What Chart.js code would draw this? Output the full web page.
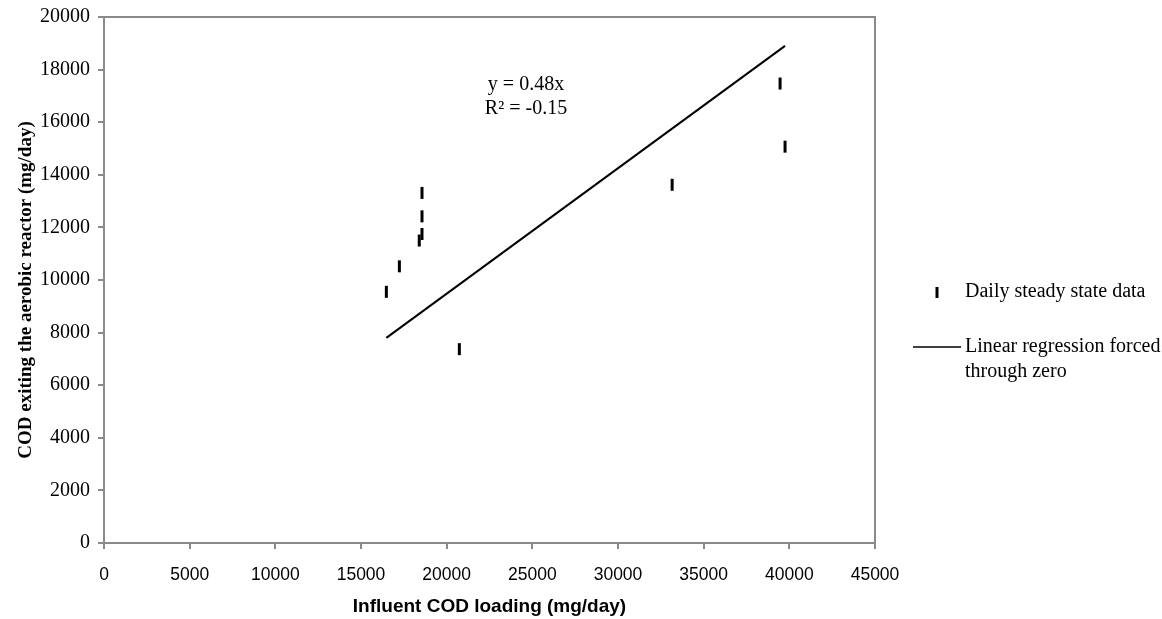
<!DOCTYPE html>
<html>
<head>
<meta charset="utf-8">
<script src="https://cdn.jsdelivr.net/npm/chart.js@4.4.1/dist/chart.umd.min.js"></script>
<style>
  html, body { margin: 0; padding: 0; background: #fff; }
  #wrap { width: 1162px; height: 619px; position: relative; }
</style>
</head>
<body>
<div id="wrap"><canvas id="chart" width="1162" height="619"></canvas></div>
<script>
// Influent vs effluent COD, daily steady state points + regression through zero
const INFLUENT = [16480, 17240, 18400, 18560, 18560, 18560, 20740, 33160, 39460, 39750];
const EFFLUENT = [9550, 10520, 11500, 11750, 12420, 13310, 7370, 13620, 17470, 15070];
const FIT_X = [16480, 39750];
const FIT_Y = [7800, 18900];
const EQ_LINES = ['y = 0.48x', 'R\u00B2 = -0.15'];
const EQ_POS = [24630, 17420];   // data coords of the equation label
const SERIES_LABELS = ['Daily steady state data', 'Linear regression forced through zero'];
const X_TITLE = 'Influent COD loading (mg/day)';
const Y_TITLE = 'COD exiting the aerobic reactor (mg/day)';

const AXIS_GREY = '#8a8a8a';
const SERIF = '"Liberation Serif", "Times New Roman", serif';
const SANS = '"Liberation Sans", Arial, sans-serif';

// frame, y title, equation text and hand-drawn legend
const extras = {
  id: 'extras',
  afterDraw(chart) {
    const { ctx, chartArea: a, scales } = chart;
    ctx.save();
    ctx.strokeStyle = AXIS_GREY;
    ctx.lineWidth = 2;
    ctx.beginPath();
    ctx.moveTo(a.left, a.top);
    ctx.lineTo(a.right, a.top);
    ctx.lineTo(a.right, a.bottom);
    ctx.stroke();

    ctx.fillStyle = '#000';
    ctx.textBaseline = 'middle';

    // y title
    ctx.save();
    ctx.translate(26, 290);
    ctx.rotate(-Math.PI / 2);
    ctx.textAlign = 'center';
    ctx.font = 'bold 19px ' + SERIF;
    ctx.fillText(Y_TITLE, 0, 0);
    ctx.restore();

    // equation
    ctx.font = '20px ' + SERIF;
    ctx.textAlign = 'center';
    const ex = scales.x.getPixelForValue(EQ_POS[0]);
    const ey = scales.y.getPixelForValue(EQ_POS[1]);
    EQ_LINES.forEach((t, i) => ctx.fillText(t, ex, ey + i * 24));

    // legend
    const lx = a.right;
    ctx.textAlign = 'left';
    ctx.strokeStyle = '#000';
    ctx.lineWidth = 3;
    ctx.beginPath();
    ctx.moveTo(lx + 62, 287);
    ctx.lineTo(lx + 62, 298);
    ctx.stroke();
    ctx.fillText(SERIES_LABELS[0], lx + 90, 292);

    ctx.lineWidth = 1.5;
    ctx.beginPath();
    ctx.moveTo(lx + 38, 347);
    ctx.lineTo(lx + 86, 347);
    ctx.stroke();
    ctx.fillText('Linear regression forced', lx + 90, 347);
    ctx.fillText('through zero', lx + 90, 372);
    ctx.restore();
  }
};

new Chart(document.getElementById('chart'), {
  type: 'scatter',
  data: {
    datasets: [
      {
        label: SERIES_LABELS[0],
        data: INFLUENT.map((x, i) => ({ x: x, y: EFFLUENT[i] })),
        pointStyle: 'line',
        rotation: 90,
        pointRadius: 6,
        pointHoverRadius: 6,
        borderColor: '#000',
        backgroundColor: '#000',
        borderWidth: 3
      },
      {
        label: SERIES_LABELS[1],
        type: 'line',
        data: FIT_X.map((x, i) => ({ x: x, y: FIT_Y[i] })),
        borderColor: '#000',
        borderWidth: 2,
        pointRadius: 0,
        fill: false
      }
    ]
  },
  options: {
    responsive: false,
    animation: false,
    events: [],
    layout: { padding: { top: 8, right: 287, left: 0, bottom: 0 } },
    plugins: { legend: { display: false }, tooltip: { enabled: false } },
    scales: {
      x: {
        type: 'linear',
        min: 0, max: 45000,
        ticks: { stepSize: 5000, color: '#000', padding: 16, maxRotation: 0,
                 callback: v => String(v),
                 font: { family: SANS, size: 17.5 } },
        grid: { drawOnChartArea: false, drawTicks: true, tickLength: 6, color: AXIS_GREY, lineWidth: 2 },
        border: { display: true, color: AXIS_GREY, width: 2 },
        title: { display: true, text: X_TITLE, color: '#000',
                 font: { family: SANS, size: 19, weight: 'bold' }, padding: { top: 0, bottom: 1 } },
        afterFit(s) { s.height = 76; }
      },
      y: {
        type: 'linear',
        min: 0, max: 20000,
        ticks: { stepSize: 2000, color: '#000', padding: 8,
                 callback: v => String(v),
                 font: { family: SERIF, size: 20, lineHeight: 0.9 } },
        grid: { drawOnChartArea: false, drawTicks: true, tickLength: 6, color: AXIS_GREY, lineWidth: 2 },
        border: { display: true, color: AXIS_GREY, width: 2 },
        afterFit(s) { s.width = 104; }
      }
    }
  },
  plugins: [extras]
});
</script>
</body>
</html>
